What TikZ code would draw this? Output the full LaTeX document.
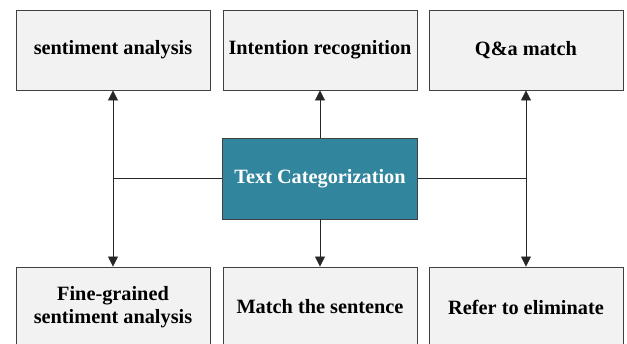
\documentclass[tikz,border=0pt]{standalone}
\usepackage{fontspec}
\setmainfont{Liberation Serif}
\usetikzlibrary{arrows.meta}
\definecolor{boxfill}{HTML}{F2F2F2}
\definecolor{boxline}{HTML}{404040}
\definecolor{teal}{HTML}{31859C}
\begin{document}
\begin{tikzpicture}[x=1pt,y=-1pt,
  taskbox/.style={draw=boxline,fill=boxfill,line width=0.9pt,minimum width=194pt,minimum height=80pt,
    inner sep=0pt,align=center,font=\fontsize{20.3}{23}\selectfont\bfseries},
  mainbox/.style={draw=boxline,fill=teal,line width=0.9pt,minimum width=195pt,minimum height=81pt,
    inner sep=0pt,align=center,text=white,font=\fontsize{20.3}{23}\selectfont\bfseries},
  conn/.style={draw=black!85,line width=0.8pt},
  tip/.style={-{Triangle[width=10pt,length=10pt]}},
  tips/.style={{Triangle[width=10pt,length=10pt]}-{Triangle[width=10pt,length=10pt]}}]
\useasboundingbox (0,0) rectangle (627,344);
\node[taskbox] (sa) at (113,50) {sentiment analysis};
\node[taskbox] (ir) at (320,50) {Intention recognition};
\node[taskbox] (qa) at (526,50) {Q\&a match};
\node[mainbox] (tc) at (320,178.5) {Text Categorization};
\node[taskbox] (fg) at (113,307) {Fine-grained\\sentiment analysis};
\node[taskbox] (ms) at (320,307) {Match the sentence};
\node[taskbox] (re) at (526,307) {Refer to eliminate};
\draw[conn,tips] (sa.south) -- (fg.north);
\draw[conn,tips] (qa.south) -- (re.north);
\draw[conn] (tc.west) -- (tc.west -| sa.south);
\draw[conn] (tc.east) -- (tc.east -| qa.south);
\draw[conn,tip] (tc.north) -- (ir.south);
\draw[conn,tip] (tc.south) -- (ms.north);
\end{tikzpicture}
\end{document}
